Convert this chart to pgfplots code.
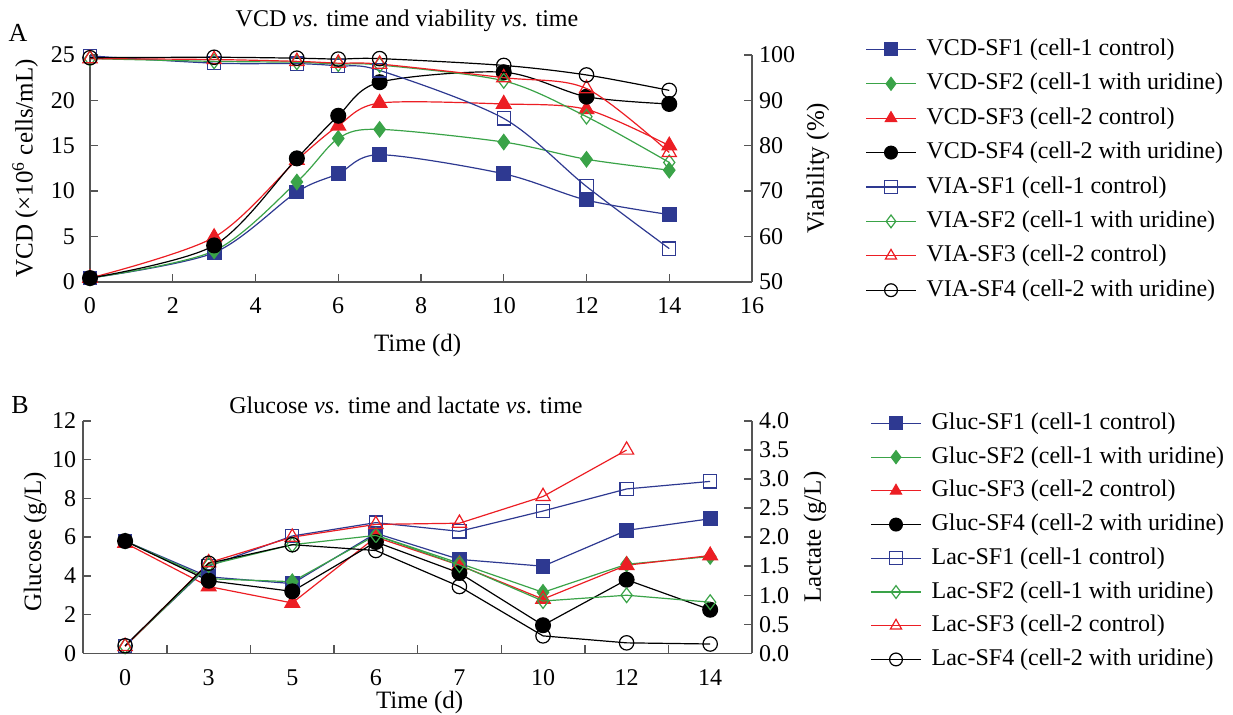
\documentclass[border=0pt]{standalone}
\usepackage{fontspec}
\setmainfont{Liberation Serif}
\usepackage{pgfplots}
\pgfplotsset{compat=1.18}

\definecolor{cblue}{RGB}{46,57,145}
\definecolor{cgreen}{RGB}{58,163,72}
\definecolor{cred}{RGB}{236,30,36}
\definecolor{caxis}{RGB}{85,85,85}

\pgfplotsset{
  base/.style={
    scale only axis, clip=false,
    /pgf/number format/assume math mode=true,
    tick align=inside,
    major tick length=4pt, minor tick length=4pt,
    tick style={caxis, line width=0.7pt},
    axis line style={caxis, line width=0.8pt},
    ticklabel style={font=\fontsize{12}{14}\selectfont},
    xticklabel style={yshift=-4.5pt},
    label style={font=\fontsize{12.5}{15}\selectfont},
    legend cell align=left,
    legend style={draw=none, fill=none, inner sep=0pt,
      font=\fontsize{12}{14}\selectfont,
      nodes={inner sep=0pt, text height=9pt, text depth=3pt},
      /tikz/every odd column/.append style={column sep=5pt}},
    legend image code/.code={\draw[mark repeat=2,mark phase=2,##1] plot coordinates {(0pt,0pt) (12.5pt,0pt) (25pt,0pt)};},
    legend image post style={mark size=3.2pt},
  },
  ln/.style={line width=0.6pt},
  f1/.style={ln, cblue, mark=square*, mark size=3.4pt, mark options={fill=cblue, draw=cblue}},
  f2/.style={ln, cgreen, mark=diamond*, mark size=3.8pt, mark options={fill=cgreen, draw=cgreen}},
  f3/.style={ln, cred, mark=triangle*, mark size=4.2pt, mark options={fill=cred, draw=cred}},
  f4/.style={ln, black, mark=*, mark size=3.7pt, mark options={fill=black}},
  o1/.style={ln, cblue, mark=square, mark size=3.3pt},
  o2/.style={ln, cgreen, mark=diamond, mark size=3.7pt},
  o3/.style={ln, cred, mark=triangle, mark size=4.1pt},
  o4/.style={ln, black, mark=o, mark size=3.6pt},
}

\begin{document}
\begin{tikzpicture}
\useasboundingbox (0,0) rectangle (616.5pt,357pt);
\node[font=\fontsize{13}{15}\selectfont] at (9pt,340.5pt) {A};
\node[font=\fontsize{12}{14}\selectfont] at (203.5pt,346.5pt) {VCD \textit{vs}. time and viability \textit{vs}. time};
\node[font=\fontsize{13}{15}\selectfont] at (10pt,154.5pt) {B};
\node[font=\fontsize{12}{14}\selectfont] at (203pt,154.5pt) {Glucose \textit{vs}. time and lactate \textit{vs}. time};

% ---------- panel A: VCD (left) ----------
\begin{axis}[base, at={(45pt,216.15pt)}, anchor=south west,
  width=331pt, height=113.35pt,
  xmin=0, xmax=16, ymin=0, ymax=25,
  axis x line*=bottom, axis y line*=left,
  xtick={0,2,...,16}, ytick={0,5,...,25},
  yticklabel style={xshift=-4pt},
  xlabel={Time (d)}, ylabel={VCD (×10\textsuperscript{6} cells/mL)},
  xlabel style={at={(axis description cs:0.495,-0.28)}, anchor=center},
  ylabel style={at={(axis description cs:-0.098,0.5)}, anchor=center}]
\addplot[f1, smooth] coordinates {(0,0.4) (3,3.2) (5,9.9) (6,11.9) (7,14.0) (10,11.9) (12,9.0) (14,7.4)};
\addplot[f2, smooth] coordinates {(0,0.4) (3,3.4) (5,11.0) (6,15.8) (7,16.8) (10,15.4) (12,13.5) (14,12.3)};
\addplot[f3, smooth] coordinates {(0,0.4) (3,4.9) (5,13.4) (6,17.2) (7,19.7) (10,19.6) (12,19.0) (14,15.0)};
\addplot[f4, smooth] coordinates {(0,0.4) (3,4.0) (5,13.6) (6,18.3) (7,22.0) (10,23.1) (12,20.4) (14,19.6)};
\end{axis}

% ---------- panel A: viability (right) ----------
\begin{axis}[base, at={(45pt,216.15pt)}, anchor=south west,
  width=331pt, height=113.35pt,
  xmin=0, xmax=16, ymin=50, ymax=100,
  axis x line=none, axis y line*=right,
  ytick={50,60,...,100},
  ylabel={Viability (\%)},
  ylabel style={at={(axis description cs:1.0997,0.5)}, anchor=center},
  legend style={at={(axis description cs:1.1707,1.0794)}, anchor=north west, row sep=5.2pt}]
\addlegendimage{f1, smooth}\addlegendentry{VCD-SF1 (cell-1 control)}
\addlegendimage{f2, smooth}\addlegendentry{VCD-SF2 (cell-1 with uridine)}
\addlegendimage{f3, smooth}\addlegendentry{VCD-SF3 (cell-2 control)}
\addlegendimage{f4, smooth}\addlegendentry{VCD-SF4 (cell-2 with uridine)}
\addplot[o1, smooth] coordinates {(0,99.8) (3,98.2) (5,98.1) (6,97.6) (7,96.6) (10,86.0) (12,71.0) (14,57.3)};
\addlegendentry{VIA-SF1 (cell-1 control)}
\addplot[o2, smooth] coordinates {(0,99.2) (3,98.6) (5,98.4) (6,98.0) (7,97.8) (10,94.3) (12,86.4) (14,76.3)};
\addlegendentry{VIA-SF2 (cell-1 with uridine)}
\addplot[o3, smooth] coordinates {(0,99.2) (3,99.0) (5,98.6) (6,98.2) (7,98.0) (10,95.0) (12,92.6) (14,78.5)};
\addlegendentry{VIA-SF3 (cell-2 control)}
\addplot[o4, smooth] coordinates {(0,99.4) (3,99.5) (5,99.3) (6,99.1) (7,99.2) (10,97.7) (12,95.6) (14,92.2)};
\addlegendentry{VIA-SF4 (cell-2 with uridine)}
\end{axis}

% ---------- panel B: glucose (left) ----------
\begin{axis}[base, at={(41.65pt,30.35pt)}, anchor=south west,
  width=334.35pt, height=116.15pt,
  xmin=-0.5, xmax=7.5, ymin=0, ymax=12,
  axis x line*=bottom, axis y line*=left,
  xtick={0,...,7}, xticklabels={0,3,5,6,7,10,12,14},
  major x tick style={draw=none},
  minor xtick={0.5,1.5,...,6.5},
  ytick={0,2,...,12},
  xlabel={Time (d)}, ylabel={Glucose (g/L)},
  xlabel style={at={(axis description cs:0.503,-0.211)}, anchor=center},
  ylabel style={at={(axis description cs:-0.072,0.48)}, anchor=center}]
\addplot[f1] coordinates {(0,5.8) (1,3.95) (2,3.6) (3,6.2) (4,4.85) (5,4.5) (6,6.35) (7,6.95)};
\addplot[f2] coordinates {(0,5.8) (1,3.85) (2,3.7) (3,6.1) (4,4.65) (5,3.15) (6,4.6) (7,5.0)};
\addplot[f3] coordinates {(0,5.7) (1,3.45) (2,2.6) (3,6.0) (4,4.55) (5,2.8) (6,4.55) (7,5.05)};
\addplot[f4] coordinates {(0,5.8) (1,3.75) (2,3.2) (3,5.75) (4,4.15) (5,1.45) (6,3.8) (7,2.25)};
\end{axis}

% ---------- panel B: lactate (right) ----------
\begin{axis}[base, at={(41.65pt,30.35pt)}, anchor=south west,
  width=334.35pt, height=116.15pt,
  xmin=-0.5, xmax=7.5, ymin=0, ymax=4,
  axis x line=none, axis y line*=right,
  ytick={0,0.5,...,4},
  yticklabel style={/pgf/number format/.cd, fixed, fixed zerofill, precision=1},
  ylabel={Lactate (g/L)},
  ylabel style={at={(axis description cs:1.094,0.5)}, anchor=center},
  legend style={at={(axis description cs:1.1765,1.043)}, anchor=north west, row sep=4.86pt}]
\addlegendimage{f1}\addlegendentry{Gluc-SF1 (cell-1 control)}
\addlegendimage{f2}\addlegendentry{Gluc-SF2 (cell-1 with uridine)}
\addlegendimage{f3}\addlegendentry{Gluc-SF3 (cell-2 control)}
\addlegendimage{f4}\addlegendentry{Gluc-SF4 (cell-2 with uridine)}
\addplot[o1] coordinates {(0,0.13) (1,1.5) (2,2.02) (3,2.25) (4,2.1) (5,2.45) (6,2.83) (7,2.96)};
\addlegendentry{Lac-SF1 (cell-1 control)}
\addplot[o2] coordinates {(0,0.12) (1,1.52) (2,1.87) (3,2.03) (4,1.52) (5,0.9) (6,1.0) (7,0.88)};
\addlegendentry{Lac-SF2 (cell-1 with uridine)}
\addplot[o3] coordinates {(0,0.12) (1,1.56) (2,2.0) (3,2.22) (4,2.24) (5,2.7) (6,3.5)};
\addlegendentry{Lac-SF3 (cell-2 control)}
\addplot[o4] coordinates {(0,0.13) (1,1.55) (2,1.87) (3,1.77) (4,1.15) (5,0.3) (6,0.18) (7,0.16)};
\addlegendentry{Lac-SF4 (cell-2 with uridine)}
\end{axis}
\end{tikzpicture}
\end{document}
